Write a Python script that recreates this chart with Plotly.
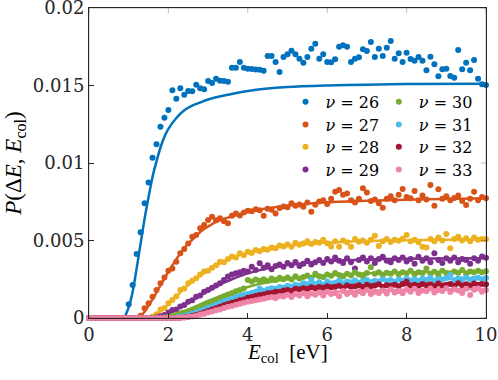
import plotly.graph_objects as go

# Collision energy grid (eV), data sampled every 0.1 eV
e_col = [round(0.1 * i, 1) for i in range(101)]

# Measured probabilities, in units of 1e-3
p26 = [0]*10 + [
    0.88, 2.13, 4.13, 5.53, 7.40, 8.75, 10.34, 11.21, 12.34, 12.92,
    13.42, 14.69, 14.15, 14.82, 14.41, 14.65, 14.63, 15.05, 14.82, 14.75,
    15.29, 15.16, 15.44, 15.31, 15.29, 15.25, 16.15, 16.15, 16.52, 16.15,
    16.08, 16.06, 16.04, 16.02, 15.95, 16.90, 16.90, 16.52, 15.87, 16.84,
    17.01, 17.25, 17.01, 16.73, 16.47, 16.84, 17.37, 17.70, 16.73, 17.01,
    16.52, 16.50, 16.69, 17.50, 17.59, 17.50, 16.52, 16.73, 16.82, 17.34,
    17.23, 17.81, 16.84, 17.37, 16.90, 17.44, 17.87, 16.73, 17.08, 16.52,
    17.12, 16.71, 16.60, 16.84, 16.60, 15.98, 16.86, 16.37, 15.59, 16.05,
    16.08, 15.61, 15.50, 17.29, 16.05, 16.47, 15.98, 16.65, 15.44, 15.08,
    15.03]
p27 = [0]*13 + [
    0.15, 0.63, 0.95, 1.37, 1.80, 2.24, 2.62, 3.05, 3.20, 3.63,
    4.17, 4.45, 4.80, 5.25, 5.35, 5.79, 6.00, 6.32, 6.54, 6.30,
    6.43, 6.25, 6.11, 6.60, 6.75, 6.62, 6.80, 6.92, 6.88, 7.02,
    6.95, 6.60, 7.05, 6.98, 6.75, 7.10, 7.20, 7.15, 7.40, 7.25,
    7.32, 7.18, 7.45, 6.86, 7.30, 7.52, 7.60, 7.35, 7.70, 8.15,
    8.26, 7.95, 8.04, 7.60, 7.45, 7.70, 8.37, 8.10, 7.55, 7.65,
    7.40, 7.12, 7.70, 7.85, 7.60, 7.95, 8.32, 7.80, 7.72, 8.20,
    7.60, 7.90, 7.65, 8.58, 7.25, 8.30, 7.70, 7.85, 7.60, 7.75,
    7.90, 7.55, 7.29, 7.70, 8.15, 7.60, 7.80, 7.72]
p28 = [0]*16 + [
    0.10, 0.25, 0.55, 0.65, 0.95, 1.16, 1.40, 1.80, 1.90, 2.24,
    2.40, 2.56, 2.80, 3.00, 3.05, 3.25, 3.40, 3.63, 3.60, 3.80,
    3.96, 3.90, 4.17, 4.05, 4.28, 4.20, 4.39, 4.30, 4.45, 4.40,
    4.55, 4.50, 4.68, 4.62, 4.75, 4.60, 4.85, 4.72, 4.80, 4.95,
    4.78, 4.90, 4.85, 5.05, 4.82, 4.62, 4.95, 4.60, 5.00, 4.88,
    4.60, 5.10, 4.92, 5.00, 4.85, 5.05, 5.31, 4.65, 4.95, 5.10,
    4.90, 5.05, 4.98, 5.12, 5.35, 4.95, 5.05, 4.88, 4.60, 4.55,
    5.10, 4.95, 5.20, 5.00, 5.42, 4.50, 5.10, 5.25, 5.00, 5.15,
    4.95, 5.20, 5.05, 5.10, 5.08]
p29 = [0]*17 + [
    0.05, 0.12, 0.20, 0.35, 0.52, 0.55, 0.75, 0.84, 1.05, 1.15,
    1.37, 1.45, 1.70, 1.80, 1.95, 2.10, 2.24, 2.45, 2.67, 2.80,
    2.88, 2.95, 3.05, 3.00, 3.31, 3.10, 3.53, 3.25, 3.40, 3.15,
    3.35, 3.45, 3.30, 3.55, 3.40, 3.62, 3.35, 3.50, 3.70, 3.45,
    3.60, 3.75, 3.55, 3.80, 3.65, 3.90, 3.70, 3.55, 3.85, 3.60,
    3.20, 3.75, 3.90, 3.65, 3.85, 3.55, 3.80, 3.95, 3.70, 3.60,
    3.85, 3.75, 3.90, 3.65, 3.80, 3.50, 3.95, 3.70, 3.85, 3.60,
    4.17, 3.75, 3.55, 3.85, 3.70, 3.90, 3.60, 3.80, 3.75, 3.50,
    3.85, 3.70, 3.96, 3.88]
p30 = [0]*19 + [
    0.03, 0.08, 0.12, 0.18, 0.25, 0.32, 0.40, 0.50, 0.63, 0.72,
    0.85, 0.98, 1.05, 1.15, 1.27, 1.38, 1.50, 1.60, 1.72, 1.80,
    1.91, 2.45, 2.35, 2.48, 2.40, 2.50, 2.38, 2.55, 2.45, 2.60,
    2.50, 2.62, 2.48, 2.70, 2.55, 2.65, 2.75, 2.60, 2.85, 2.70,
    2.65, 2.80, 2.72, 2.90, 2.78, 2.68, 2.85, 2.75, 2.95, 2.80,
    2.70, 2.90, 3.27, 2.85, 2.95, 2.78, 2.92, 2.85, 3.00, 2.80,
    2.95, 2.88, 3.05, 2.82, 2.95, 2.90, 3.20, 2.85, 2.98, 2.75,
    3.05, 2.90, 2.80, 3.00, 2.92, 3.10, 2.85, 3.00, 2.95, 3.05,
    2.95, 3.02]
p31 = [0]*21 + [
    0.02, 0.05, 0.08, 0.14, 0.20, 0.28, 0.36, 0.45, 0.55, 0.65,
    0.75, 0.85, 0.95, 1.08, 1.15, 1.22, 1.35, 1.42, 1.50, 1.55,
    1.62, 1.70, 1.90, 1.75, 1.85, 1.92, 1.88, 2.00, 1.95, 2.08,
    2.02, 2.15, 2.10, 2.25, 2.18, 2.45, 2.20, 2.30, 2.15, 2.35,
    2.22, 2.28, 2.40, 2.25, 2.35, 2.30, 2.42, 2.28, 2.38, 2.45,
    2.30, 2.40, 2.35, 2.50, 2.38, 2.45, 2.32, 2.48, 2.40, 2.55,
    2.42, 2.50, 2.38, 2.55, 2.45, 2.60, 2.40, 2.52, 2.48, 2.58,
    2.77, 2.45, 2.55, 2.50, 2.62, 2.48, 2.55, 2.60, 2.50, 2.58]
p32 = [0]*23 + [
    0.02, 0.05, 0.08, 0.14, 0.20, 0.28, 0.36, 0.45, 0.55, 0.63,
    0.72, 0.82, 0.90, 0.98, 1.05, 1.15, 1.20, 1.30, 1.35, 1.42,
    1.48, 1.52, 1.60, 1.62, 1.70, 1.68, 1.78, 1.80, 1.75, 1.88,
    1.85, 1.92, 1.88, 1.98, 1.92, 2.00, 1.95, 2.05, 1.98, 2.02,
    2.08, 1.95, 2.10, 2.02, 2.05, 2.12, 2.00, 2.15, 2.05, 2.10,
    2.18, 2.02, 2.12, 2.08, 2.15, 2.05, 2.20, 2.34, 2.10, 2.15,
    2.08, 2.20, 2.12, 2.18, 2.05, 2.22, 2.10, 2.15, 2.20, 2.08,
    2.25, 2.12, 2.18, 2.10, 2.22, 2.15, 2.20, 2.18]
p33 = [0]*23 + [
    0.02, 0.04, 0.06, 0.10, 0.15, 0.22, 0.28, 0.35, 0.42, 0.50,
    0.55, 0.65, 0.72, 0.78, 0.85, 0.92, 0.98, 1.05, 1.10, 1.15,
    1.20, 1.25, 1.30, 1.35, 1.28, 1.42, 1.38, 1.50, 1.35, 1.55,
    1.45, 1.60, 1.40, 1.58, 1.50, 1.65, 1.45, 1.70, 1.55, 1.62,
    1.40, 1.75, 1.55, 1.68, 1.50, 1.72, 1.60, 1.80, 1.55, 1.70,
    1.62, 1.78, 1.58, 1.85, 1.65, 1.75, 1.60, 1.82, 1.70, 1.88,
    1.62, 1.78, 1.72, 1.90, 1.65, 1.80, 1.75, 1.92, 1.68, 1.85,
    1.78, 1.62, 1.88, 1.48, 1.82, 1.90, 1.70, 1.80]

# Fitted curves (sampled), in units of 1e-3
fx26 = [0, 0.85, 0.9, 1.0, 1.1, 1.2, 1.3, 1.4, 1.5, 1.6, 1.7, 1.8, 1.9, 2.0, 2.2, 2.4, 2.6, 2.8, 3.0, 3.5, 4.0, 5.0, 6.0, 7.0, 8.0, 10.0]
fy26 = [0, 0, 0.1, 0.7, 1.7, 3.2, 4.8, 6.4, 7.8, 9.1, 10.1, 11.0, 11.7, 12.2, 12.9, 13.4, 13.7, 13.9, 14.1, 14.4, 14.65, 14.9, 15.0, 15.05, 15.1, 15.12]
fx27 = [0, 1.2, 1.3, 1.4, 1.5, 1.6, 1.7, 1.8, 1.9, 2.0, 2.1, 2.2, 2.3, 2.4, 2.5, 2.6, 2.7, 2.8, 2.9, 3.0, 3.2, 3.4, 3.6, 3.8, 4.0, 4.5, 5.0, 5.5, 6.0, 7.0, 8.0, 9.0, 10.0]
fy27 = [0, 0, 0.12, 0.4, 0.8, 1.2, 1.65, 2.1, 2.55, 3.0, 3.4, 3.8, 4.15, 4.5, 4.8, 5.05, 5.3, 5.55, 5.75, 5.9, 6.2, 6.4, 6.55, 6.7, 6.85, 7.08, 7.25, 7.37, 7.46, 7.56, 7.63, 7.68, 7.72]
fx28 = [0, 1.5, 1.6, 1.7, 1.8, 1.9, 2.0, 2.2, 2.4, 2.6, 2.8, 3.0, 3.2, 3.4, 3.6, 3.8, 4.0, 4.5, 5.0, 5.5, 6.0, 7.0, 8.0, 9.0, 10.0]
fy28 = [0, 0, 0.08, 0.22, 0.42, 0.65, 0.9, 1.4, 1.9, 2.35, 2.75, 3.1, 3.4, 3.66, 3.88, 4.06, 4.2, 4.48, 4.66, 4.78, 4.87, 4.97, 5.02, 5.05, 5.07]
fx29 = [0, 1.6, 1.8, 2.0, 2.2, 2.4, 2.6, 2.8, 3.0, 3.2, 3.4, 3.6, 3.8, 4.0, 4.5, 5.0, 5.5, 6.0, 7.0, 8.0, 9.0, 10.0]
fy29 = [0, 0, 0.1, 0.3, 0.55, 0.85, 1.15, 1.45, 1.75, 2.02, 2.28, 2.5, 2.7, 2.88, 3.2, 3.42, 3.57, 3.67, 3.77, 3.82, 3.84, 3.86]
fx30 = [0, 1.8, 2.0, 2.5, 3.0, 3.5, 4.0, 4.5, 5.0, 5.5, 6.0, 7.0, 8.0, 9.0, 10.0]
fy30 = [0, 0, 0.15, 0.55, 1.1, 1.6, 2.0, 2.3, 2.5, 2.65, 2.75, 2.88, 2.95, 2.98, 3.0]
fx31 = [0, 2.0, 2.5, 3.0, 3.5, 4.0, 4.5, 5.0, 5.5, 6.0, 7.0, 8.0, 9.0, 10.0]
fy31 = [0, 0, 0.2, 0.65, 1.15, 1.55, 1.85, 2.05, 2.17, 2.25, 2.38, 2.46, 2.52, 2.56]
fx32 = [0, 2.2, 2.5, 3.0, 3.5, 4.0, 4.5, 5.0, 5.5, 6.0, 7.0, 8.0, 9.0, 10.0]
fy32 = [0, 0, 0.08, 0.45, 0.9, 1.3, 1.6, 1.8, 1.92, 2.0, 2.08, 2.13, 2.16, 2.18]
fx33 = [0, 2.2, 2.5, 3.0, 3.5, 4.0, 4.5, 5.0, 5.5, 6.0, 7.0, 8.0, 9.0, 10.0]
fy33 = [0, 0, 0.06, 0.35, 0.72, 1.05, 1.3, 1.48, 1.6, 1.68, 1.77, 1.82, 1.85, 1.87]

nu_labels = [26, 27, 28, 29, 30, 31, 32, 33]
colors = ['#0072BD', '#D95319', '#EDB120', '#7E2F8E', '#77AC30', '#4DBEEE', '#A2142F', '#EE84A6']
data_sets = [p26, p27, p28, p29, p30, p31, p32, p33]
fit_x = [fx26, fx27, fx28, fx29, fx30, fx31, fx32, fx33]
fit_y = [fy26, fy27, fy28, fy29, fy30, fy31, fy32, fy33]
x_ticks = [0, 2, 4, 6, 8, 10]
y_ticks = [0, 0.005, 0.01, 0.015, 0.02]
y_ticktext = ['0', '0.005', '0.01', '0.015', '0.02']

SERIF = 'Liberation Serif'      # letters
DIGITS = 'DejaVu Serif'         # numerals
AX = '#262626'
fig = go.Figure()

# legend positions (paper coords): column x, row y
leg_cols = [0.495, 0.73]
leg_rows = [0.697, 0.624, 0.552, 0.479]

for i, nu in enumerate(nu_labels):
    lname = 'legend' if i == 0 else f'legend{i+1}'
    fig.add_trace(go.Scatter(
        x=e_col, y=[v * 1e-3 for v in data_sets[i]], mode='markers',
        marker=dict(color=colors[i], size=6),
        name=f'<i>ν</i> = {nu}', legend=lname, cliponaxis=False,
    ))
    fig.add_trace(go.Scatter(
        x=fit_x[i], y=[v * 1e-3 for v in fit_y[i]], mode='lines',
        line=dict(color=colors[i], width=2.5, shape='spline', smoothing=0.8),
        showlegend=False, cliponaxis=False,
    ))

legends = {}
for i in range(8):
    key = 'legend' if i == 0 else f'legend{i+1}'
    legends[key] = dict(
        x=leg_cols[i // 4], y=leg_rows[i % 4], xanchor='left', yanchor='middle',
        bgcolor='rgba(0,0,0,0)', borderwidth=0,
        font=dict(family=DIGITS, size=16, color='#000000'),
        itemwidth=30, tracegroupgap=0,
    )

common = dict(showline=True, linecolor=AX, linewidth=1, mirror=True,
              ticks='inside', ticklen=5, tickcolor=AX, tickwidth=1,
              showgrid=False, zeroline=False, ticklabeloverflow='allow',
              automargin=False)

# box frame + mirrored ticks on top / right (axis decorations)
shapes = [dict(type='rect', xref='paper', yref='paper', x0=0, x1=1, y0=0, y1=1,
               line=dict(color=AX, width=1), fillcolor='rgba(0,0,0,0)', layer='above')]
for t in x_ticks:
    shapes.append(dict(type='line', xref='x', yref='paper', x0=t, x1=t, y0=1, y1=1 - 5 / 310,
                       line=dict(color=AX, width=1), layer='above'))
for t in y_ticks:
    shapes.append(dict(type='line', xref='paper', yref='y', x0=1, x1=1 - 5 / 397, y0=t, y1=t,
                       line=dict(color=AX, width=1), layer='above'))

fig.update_layout(
    template='simple_white',
    width=498, height=380,
    margin=dict(l=89, r=12, t=8, b=62, autoexpand=False),
    plot_bgcolor='white', paper_bgcolor='white',
    font=dict(family=SERIF, size=20, color='#000000'),
    showlegend=True,
    xaxis=dict(range=[0, 10], tickvals=x_ticks,
               tickfont=dict(family=DIGITS, size=18, color=AX), **common),
    yaxis=dict(range=[0, 0.02], tickvals=y_ticks, ticktext=y_ticktext,
               tickfont=dict(family=DIGITS, size=18, color=AX),
               title=dict(text='<i>P</i>(Δ<i>E</i>,\u00a0<i>E</i><sub>col</sub>)',
                          font=dict(family=SERIF, size=23, color='#000000'), standoff=4),
               **common),
    annotations=[dict(text='<i>E</i><sub>col</sub>\u00a0\u00a0[eV]', xref='paper', yref='paper',
                      x=0.5, y=-0.066, xanchor='center', yanchor='top', showarrow=False,
                      font=dict(family=SERIF, size=21, color='#000000'))],
    shapes=shapes,
    **legends,
)

fig.write_html('out.html', config={'displayModeBar': False},
               post_script="document.body.style.margin='0';")
